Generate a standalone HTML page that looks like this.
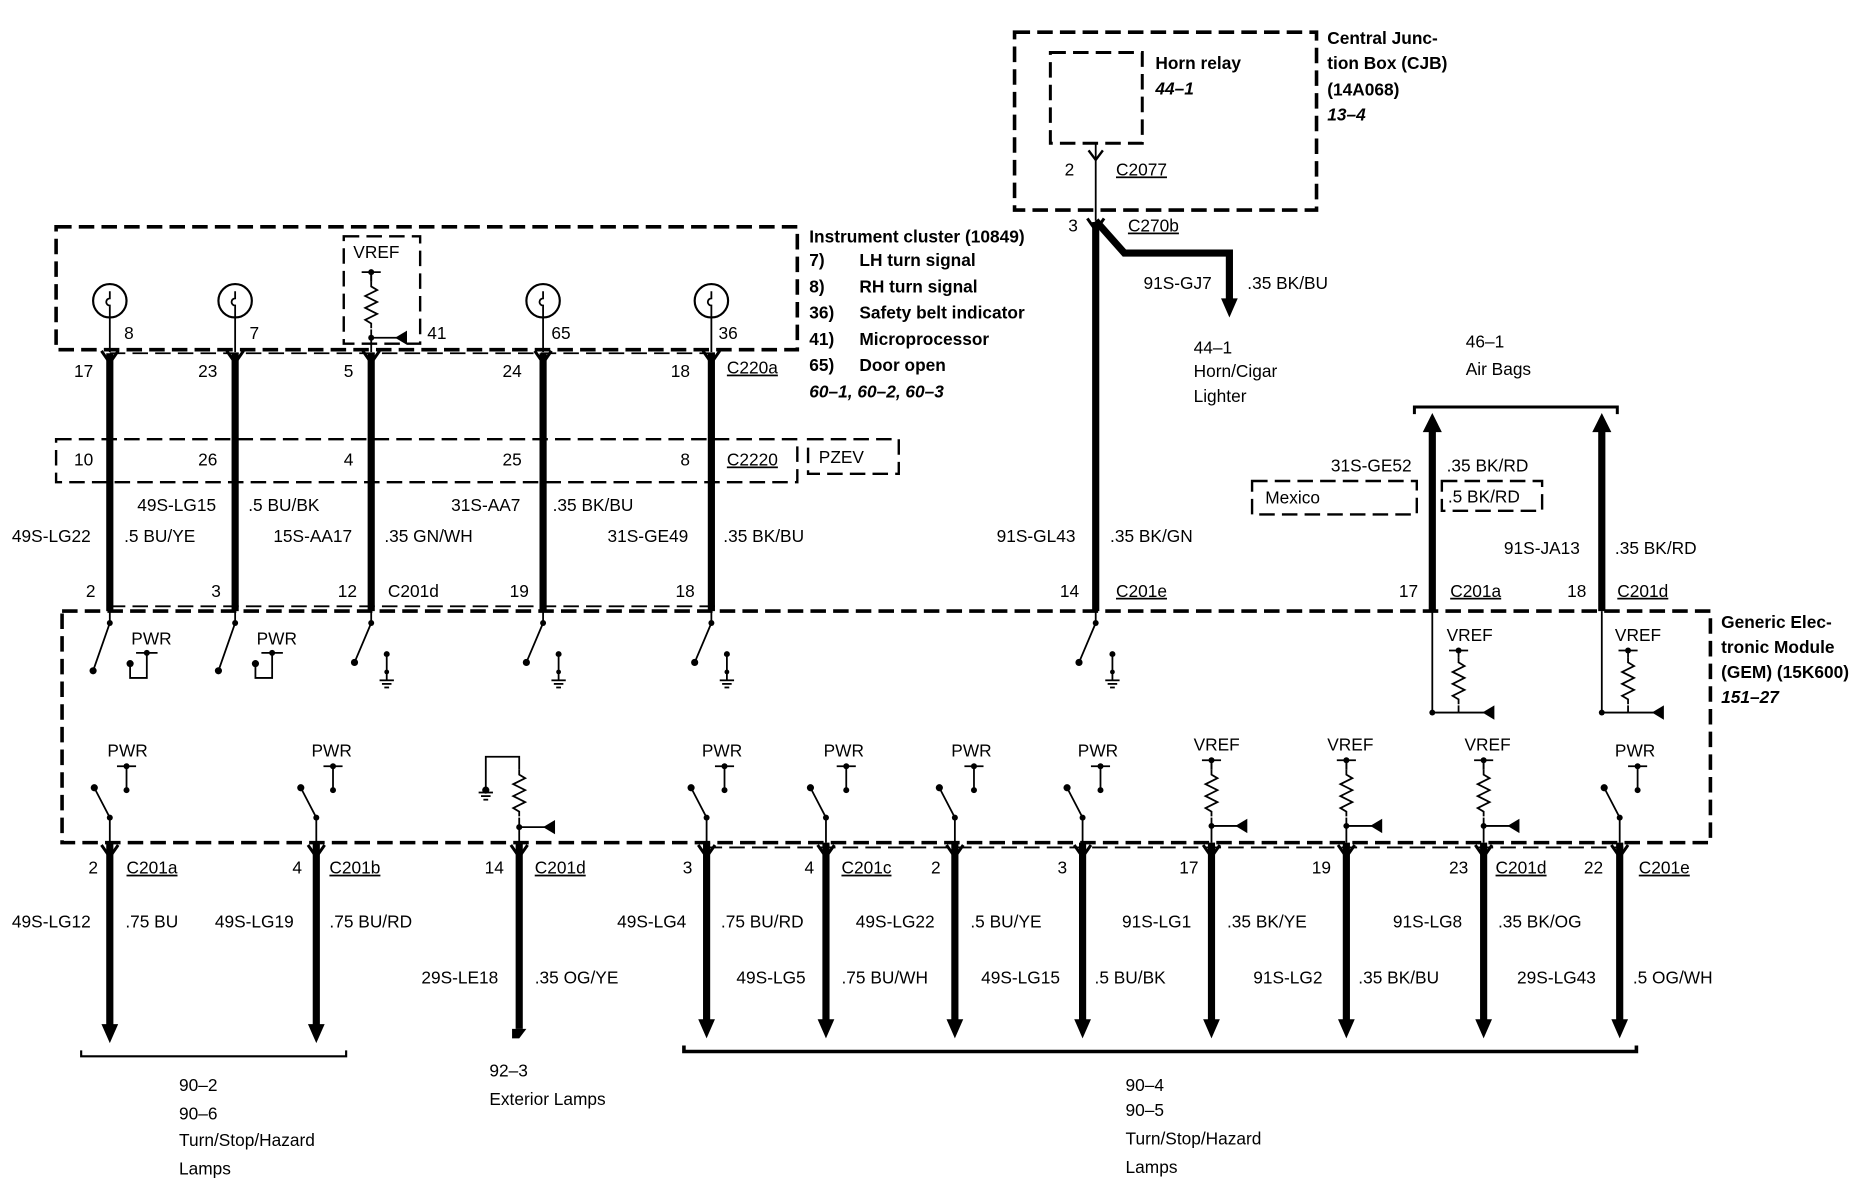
<!DOCTYPE html>
<html><head><meta charset="utf-8"><style>
html,body{margin:0;padding:0;background:#fff;}
svg{display:block;}
text{font-family:"Liberation Sans",Arial,sans-serif;font-size:14.5px;fill:#000;}
.b{font-weight:bold;}
.i{font-weight:bold;font-style:italic;}
.u{text-decoration:underline;}
</style></head><body>
<svg width="1862" height="1184" viewBox="0 0 1560 992" preserveAspectRatio="none" xmlns="http://www.w3.org/2000/svg">
<defs>
<g id="gnd"><line x1="0" y1="0" x2="0" y2="22" stroke="#000" stroke-width="1.5"/><circle cx="0" cy="0" r="2.5"/><circle cx="0" cy="15" r="2"/><line x1="-6" y1="22" x2="6" y2="22" stroke="#000" stroke-width="1.5"/><line x1="-4" y1="25" x2="4" y2="25" stroke="#000" stroke-width="1.5"/><line x1="-2" y1="28" x2="2" y2="28" stroke="#000" stroke-width="1.5"/></g>
<g id="tbar"><line x1="-8" y1="0" x2="8" y2="0" stroke="#000" stroke-width="1.5"/><line x1="0" y1="0" x2="0" y2="20" stroke="#000" stroke-width="1.5"/><circle cx="0" cy="0" r="2.5"/><circle cx="0" cy="20" r="2.5"/></g>
<path id="zig" d="M0 0 l0 4 l5 3 l-10 5 l10 5 l-10 5 l10 5 l-10 5 l5 3 l0 4" fill="none" stroke="#000" stroke-width="1.5"/>
<g id="tri"><line x1="0" y1="0" x2="22" y2="0" stroke="#000" stroke-width="1.5"/><polygon points="20,0 30,-6 30,6"/></g>
</defs>
<g fill="none" stroke="#000" stroke-width="3" stroke-dasharray="13,6">
<rect x="850" y="27" width="253" height="149"/>
<rect x="880" y="44" width="77" height="76" stroke-width="2.5"/>
<rect x="47" y="190" width="621" height="103"/>
<rect x="288" y="198" width="64" height="90" stroke-width="2"/>
<rect x="47" y="368" width="621" height="36" stroke-width="2"/>
<rect x="677" y="368" width="76" height="29" stroke-width="2"/>
<rect x="1049" y="403" width="138" height="28" stroke-width="2"/>
<rect x="1208" y="403" width="84" height="25" stroke-width="2"/>
<rect x="52" y="512" width="1381" height="194"/>
<line x1="92" y1="296" x2="600" y2="296" stroke-width="1.5"/>
<line x1="92" y1="508" x2="600" y2="508" stroke-width="1.5"/>
<line x1="592" y1="710" x2="1360" y2="710" stroke-width="1.5"/>
</g>
<!-- CJB -->
<text x="1112" y="37" class="b">Central Junc-</text>
<text x="1112" y="58" class="b">tion Box (CJB)</text>
<text x="1112" y="80" class="b">(14A068)</text>
<text x="1112" y="101" class="i">13–4</text>
<text x="968" y="58" class="b">Horn relay</text>
<text x="968" y="79" class="i">44–1</text>
<line x1="918" y1="120" x2="918" y2="185" stroke="#000" stroke-width="1.5"/>
<polyline points="912,126 918,134 924,126" fill="none" stroke="#000" stroke-width="2"/>
<text x="892" y="147">2</text><text x="935" y="147" class="u">C2077</text>
<text x="895" y="194">3</text><text x="945" y="194" class="u">C270b</text>
<polyline points="918,185 942,212 1030,212 1030,252" fill="none" stroke="#000" stroke-width="6"/>
<polygon points="1023,250 1037,250 1030,266"/>
<text x="958" y="242">91S-GJ7</text><text x="1045" y="242">.35 BK/BU</text>
<text x="1000" y="296">44–1</text><text x="1000" y="316">Horn/Cigar</text><text x="1000" y="337">Lighter</text>
<polyline points="911,183 918,193 925,183" fill="none" stroke="#000" stroke-width="2.5"/>
<line x1="918" y1="186" x2="918" y2="512" stroke="#000" stroke-width="6"/>
<!-- Instrument cluster -->
<text x="678" y="203" class="b">Instrument cluster (10849)</text>
<text x="678" y="223" class="b">7)</text><text x="720" y="223" class="b">LH turn signal</text>
<text x="678" y="245" class="b">8)</text><text x="720" y="245" class="b">RH turn signal</text>
<text x="678" y="267" class="b">36)</text><text x="720" y="267" class="b">Safety belt indicator</text>
<text x="678" y="289" class="b">41)</text><text x="720" y="289" class="b">Microprocessor</text>
<text x="678" y="311" class="b">65)</text><text x="720" y="311" class="b">Door open</text>
<text x="678" y="333" class="i">60–1, 60–2, 60–3</text>
<g fill="none" stroke="#000" stroke-width="1.8">
<circle cx="92" cy="252" r="14"/><circle cx="197" cy="252" r="14"/><circle cx="455" cy="252" r="14"/><circle cx="596" cy="252" r="14"/>
</g>
<g stroke="#000" stroke-width="1.5" fill="none">
<path d="M92 266 v-10 a3 3 0 1 1 0 -6 v-6 M197 266 v-10 a3 3 0 1 1 0 -6 v-6 M455 266 v-10 a3 3 0 1 1 0 -6 v-6 M596 266 v-10 a3 3 0 1 1 0 -6 v-6"/>
<line x1="92" y1="266" x2="92" y2="295"/><line x1="197" y1="266" x2="197" y2="295"/><line x1="455" y1="266" x2="455" y2="295"/><line x1="596" y1="266" x2="596" y2="295"/>
<line x1="311" y1="228" x2="311" y2="295"/>
</g>
<text x="296" y="216">VREF</text>
<use href="#tbar" x="311" y="228" transform="translate(0,0)"/>
<rect x="306" y="236" width="10" height="40" fill="#fff"/>
<use href="#zig" x="311" y="236"/>
<circle cx="311" cy="283" r="2.5"/><use href="#tri" x="311" y="283"/>
<text x="104" y="284">8</text><text x="209" y="284">7</text><text x="358" y="284">41</text><text x="462" y="284">65</text><text x="602" y="284">36</text>
<g stroke="#000" stroke-width="6">
<line x1="92" y1="296" x2="92" y2="512"/><line x1="197" y1="296" x2="197" y2="512"/><line x1="311" y1="296" x2="311" y2="512"/><line x1="455" y1="296" x2="455" y2="512"/><line x1="596" y1="296" x2="596" y2="512"/>
</g>
<g fill="none" stroke="#000" stroke-width="2.5">
<polyline points="85,294 92,304 99,294"/><polyline points="190,294 197,304 204,294"/><polyline points="304,294 311,304 318,294"/><polyline points="448,294 455,304 462,294"/><polyline points="589,294 596,304 603,294"/>
</g>
<text x="62" y="316">17</text><text x="166" y="316">23</text><text x="288" y="316">5</text><text x="421" y="316">24</text><text x="562" y="316">18</text><text x="609" y="313" class="u">C220a</text>
<text x="62" y="390">10</text><text x="166" y="390">26</text><text x="288" y="390">4</text><text x="421" y="390">25</text><text x="570" y="390">8</text><text x="609" y="390" class="u">C2220</text>
<text x="686" y="388">PZEV</text>
<text x="115" y="428">49S-LG15</text><text x="208" y="428">.5 BU/BK</text>
<text x="378" y="428">31S-AA7</text><text x="463" y="428">.35 BK/BU</text>
<text x="10" y="454">49S-LG22</text><text x="104" y="454">.5 BU/YE</text>
<text x="229" y="454">15S-AA17</text><text x="322" y="454">.35 GN/WH</text>
<text x="509" y="454">31S-GE49</text><text x="606" y="454">.35 BK/BU</text>
<text x="835" y="454">91S-GL43</text><text x="930" y="454">.35 BK/GN</text>
<text x="72" y="500">2</text><text x="177" y="500">3</text><text x="283" y="500">12</text><text x="325" y="500">C201d</text><text x="427" y="500">19</text><text x="566" y="500">18</text>
<text x="888" y="500">14</text><text x="935" y="500" class="u">C201e</text>
<text x="1172" y="500">17</text><text x="1215" y="500" class="u">C201a</text>
<text x="1313" y="500">18</text><text x="1355" y="500" class="u">C201d</text>
<!-- Air bags -->
<text x="1228" y="291">46–1</text><text x="1228" y="314">Air Bags</text>
<path d="M1185 347 v-6 h170 v6" fill="none" stroke="#000" stroke-width="2.5"/>
<g stroke="#000" stroke-width="6"><line x1="1200" y1="360" x2="1200" y2="512"/><line x1="1342" y1="360" x2="1342" y2="512"/></g>
<polygon points="1192,362 1208,362 1200,346"/><polygon points="1334,362 1350,362 1342,346"/>
<text x="1115" y="395">31S-GE52</text><text x="1212" y="395">.35 BK/RD</text>
<text x="1060" y="422">Mexico</text><text x="1213" y="421">.5 BK/RD</text>
<text x="1260" y="464">91S-JA13</text><text x="1353" y="464">.35 BK/RD</text>
<!-- GEM -->
<text x="1442" y="526" class="b">Generic Elec-</text>
<text x="1442" y="547" class="b">tronic Module</text>
<text x="1442" y="568" class="b">(GEM) (15K600)</text>
<text x="1442" y="589" class="i">151–27</text>
<g stroke="#000" stroke-width="1.5" fill="none">
<!-- top row switches -->
<path d="M92 512 v10 l-14 40 M197 512 v10 l-14 40 M311 512 v10 l-14 33 M455 512 v10 l-14 33 M596 512 v10 l-14 33 M918 512 v10 l-14 33"/>
<path d="M109 556 v12 h14 v-21 M214 556 v12 h14 v-21"/>
<!-- GEM VREF -->
<path d="M1200 512 v85 h22 M1342 512 v85 h22"/>
<line x1="1222" y1="545" x2="1222" y2="597"/><line x1="1364" y1="545" x2="1364" y2="597"/>
<!-- bottom row -->
<path d="M79 660 l13 25 v21 M252 660 l13 25 v21 M579 660 l13 25 v21 M679 660 l13 25 v21 M787 660 l13 25 v21 M894 660 l13 25 v21 M1344 660 l13 25 v21"/>
<path d="M407 662 v-28 h28 v72 M1015 636 v70 M1128 636 v70 M1243 636 v70"/>
</g>
<g fill="#000">
<circle cx="92" cy="522" r="2.5"/><circle cx="78" cy="562" r="3"/><circle cx="197" cy="522" r="2.5"/><circle cx="183" cy="562" r="3"/>
<circle cx="109" cy="556" r="3"/><circle cx="214" cy="556" r="3"/>
<circle cx="311" cy="522" r="2.5"/><circle cx="297" cy="555" r="3"/>
<circle cx="455" cy="522" r="2.5"/><circle cx="441" cy="555" r="3"/>
<circle cx="596" cy="522" r="2.5"/><circle cx="582" cy="555" r="3"/>
<circle cx="918" cy="522" r="2.5"/><circle cx="904" cy="555" r="3"/>
<circle cx="1200" cy="597" r="2.5"/><circle cx="1342" cy="597" r="2.5"/>
</g>
<g stroke="#000" stroke-width="1.5"><line x1="114" y1="547" x2="132" y2="547"/><line x1="219" y1="547" x2="237" y2="547"/></g>
<circle cx="123" cy="547" r="2.5"/><circle cx="228" cy="547" r="2.5"/>
<text x="110" y="540">PWR</text><text x="215" y="540">PWR</text>
<use href="#gnd" x="324" y="548"/><use href="#gnd" x="468" y="548"/><use href="#gnd" x="609" y="548"/><use href="#gnd" x="932" y="548"/>
<text x="1212" y="537">VREF</text><text x="1353" y="537">VREF</text>
<g stroke="#000" stroke-width="1.5"><line x1="1214" y1="545" x2="1230" y2="545"/><line x1="1356" y1="545" x2="1372" y2="545"/></g>
<circle cx="1222" cy="545" r="2.5"/><circle cx="1364" cy="545" r="2.5"/>
<rect x="1216" y="551" width="12" height="40" fill="#fff"/><rect x="1358" y="551" width="12" height="40" fill="#fff"/>
<use href="#zig" x="1222" y="551"/><use href="#zig" x="1364" y="551"/>
<use href="#tri" x="1222" y="597"/><use href="#tri" x="1364" y="597"/>
<!-- bottom row -->
<text x="90" y="634">PWR</text><text x="261" y="634">PWR</text><text x="588" y="634">PWR</text><text x="690" y="634">PWR</text><text x="797" y="634">PWR</text><text x="903" y="634">PWR</text><text x="1353" y="634">PWR</text>
<use href="#tbar" x="106" y="642"/><use href="#tbar" x="279" y="642"/><use href="#tbar" x="607" y="642"/><use href="#tbar" x="709" y="642"/><use href="#tbar" x="816" y="642"/><use href="#tbar" x="922" y="642"/><use href="#tbar" x="1372" y="642"/>
<g fill="#000">
<circle cx="79" cy="660" r="3"/><circle cx="92" cy="685" r="2.5"/><circle cx="252" cy="660" r="3"/><circle cx="265" cy="685" r="2.5"/>
<circle cx="579" cy="660" r="3"/><circle cx="592" cy="685" r="2.5"/><circle cx="679" cy="660" r="3"/><circle cx="692" cy="685" r="2.5"/>
<circle cx="787" cy="660" r="3"/><circle cx="800" cy="685" r="2.5"/><circle cx="894" cy="660" r="3"/><circle cx="907" cy="685" r="2.5"/>
<circle cx="1344" cy="660" r="3"/><circle cx="1357" cy="685" r="2.5"/>
</g>
<text x="1000" y="629">VREF</text><text x="1112" y="629">VREF</text><text x="1227" y="629">VREF</text>
<use href="#tbar" x="1015" y="637"/><use href="#tbar" x="1128" y="637"/><use href="#tbar" x="1243" y="637"/>
<rect x="1009" y="645" width="12" height="40" fill="#fff"/><rect x="1122" y="645" width="12" height="40" fill="#fff"/><rect x="1237" y="645" width="12" height="40" fill="#fff"/>
<use href="#zig" x="1015" y="645"/><use href="#zig" x="1128" y="645"/><use href="#zig" x="1243" y="645"/>
<circle cx="1015" cy="692" r="2.5"/><circle cx="1128" cy="692" r="2.5"/><circle cx="1243" cy="692" r="2.5"/>
<use href="#tri" x="1015" y="692"/><use href="#tri" x="1128" y="692"/><use href="#tri" x="1243" y="692"/>
<rect x="429" y="645" width="12" height="40" fill="#fff"/><use href="#zig" x="435" y="645"/>
<circle cx="435" cy="693" r="2.5"/><use href="#tri" x="435" y="693"/>
<circle cx="407" cy="662" r="3"/>
<g stroke="#000" stroke-width="1.5"><line x1="401" y1="664" x2="413" y2="664"/><line x1="403" y1="667" x2="411" y2="667"/><line x1="405" y1="670" x2="409" y2="670"/></g>
<g stroke="#000" stroke-width="6">
<line x1="92" y1="706" x2="92" y2="862"/><line x1="265" y1="706" x2="265" y2="862"/><line x1="435" y1="706" x2="435" y2="862"/>
<line x1="592" y1="706" x2="592" y2="856"/><line x1="692" y1="706" x2="692" y2="856"/><line x1="800" y1="706" x2="800" y2="856"/><line x1="907" y1="706" x2="907" y2="856"/>
<line x1="1015" y1="706" x2="1015" y2="856"/><line x1="1128" y1="706" x2="1128" y2="856"/><line x1="1243" y1="706" x2="1243" y2="856"/><line x1="1357" y1="706" x2="1357" y2="856"/>
</g>
<g fill="#000">
<polygon points="85,858 99,858 92,874"/><polygon points="258,858 272,858 265,874"/><polygon points="429,862 441,862 435,870 429,870"/>
<polygon points="585,854 599,854 592,870"/><polygon points="685,854 699,854 692,870"/><polygon points="793,854 807,854 800,870"/><polygon points="900,854 914,854 907,870"/>
<polygon points="1008,854 1022,854 1015,870"/><polygon points="1121,854 1135,854 1128,870"/><polygon points="1236,854 1250,854 1243,870"/><polygon points="1350,854 1364,854 1357,870"/>
</g>
<g fill="none" stroke="#000" stroke-width="2.5">
<polyline points="85,708 92,718 99,708"/><polyline points="258,708 265,718 272,708"/><polyline points="428,708 435,718 442,708"/><polyline points="585,708 592,718 599,708"/><polyline points="685,708 692,718 699,708"/><polyline points="793,708 800,718 807,708"/><polyline points="900,708 907,718 914,708"/><polyline points="1008,708 1015,718 1022,708"/><polyline points="1121,708 1128,718 1135,708"/><polyline points="1236,708 1243,718 1250,708"/><polyline points="1350,708 1357,718 1364,708"/>
</g>
<text x="74" y="732">2</text><text x="106" y="732" class="u">C201a</text>
<text x="245" y="732">4</text><text x="276" y="732" class="u">C201b</text>
<text x="406" y="732">14</text><text x="448" y="732" class="u">C201d</text>
<text x="572" y="732">3</text><text x="674" y="732">4</text><text x="705" y="732" class="u">C201c</text>
<text x="780" y="732">2</text><text x="886" y="732">3</text><text x="988" y="732">17</text><text x="1099" y="732">19</text>
<text x="1214" y="732">23</text><text x="1253" y="732" class="u">C201d</text>
<text x="1327" y="732">22</text><text x="1373" y="732" class="u">C201e</text>
<text x="10" y="777">49S-LG12</text><text x="105" y="777">.75 BU</text>
<text x="180" y="777">49S-LG19</text><text x="276" y="777">.75 BU/RD</text>
<text x="517" y="777">49S-LG4</text><text x="604" y="777">.75 BU/RD</text>
<text x="717" y="777">49S-LG22</text><text x="813" y="777">.5 BU/YE</text>
<text x="940" y="777">91S-LG1</text><text x="1028" y="777">.35 BK/YE</text>
<text x="1167" y="777">91S-LG8</text><text x="1255" y="777">.35 BK/OG</text>
<text x="353" y="824">29S-LE18</text><text x="448" y="824">.35 OG/YE</text>
<text x="617" y="824">49S-LG5</text><text x="705" y="824">.75 BU/WH</text>
<text x="822" y="824">49S-LG15</text><text x="917" y="824">.5 BU/BK</text>
<text x="1050" y="824">91S-LG2</text><text x="1138" y="824">.35 BK/BU</text>
<text x="1271" y="824">29S-LG43</text><text x="1368" y="824">.5 OG/WH</text>
<path d="M68 880 v5 h222 v-5" fill="none" stroke="#000" stroke-width="1.8"/>
<path d="M573 876 v5 h798 v-5" fill="none" stroke="#000" stroke-width="3"/>
<text x="150" y="914">90–2</text><text x="150" y="938">90–6</text><text x="150" y="960">Turn/Stop/Hazard</text><text x="150" y="984">Lamps</text>
<text x="410" y="902">92–3</text><text x="410" y="926">Exterior Lamps</text>
<text x="943" y="914">90–4</text><text x="943" y="935">90–5</text><text x="943" y="959">Turn/Stop/Hazard</text><text x="943" y="983">Lamps</text>
</svg>
</body></html>
